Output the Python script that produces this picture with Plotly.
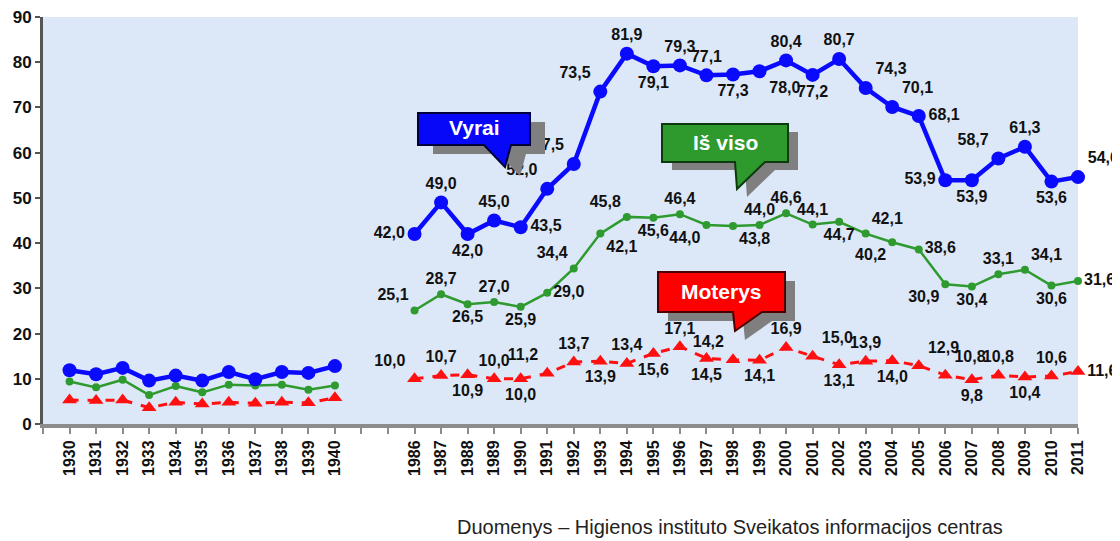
import plotly.graph_objects as go

# ---------------- data ----------------
years_early = ["1930", "1931", "1932", "1933", "1934", "1935", "1936", "1937", "1938", "1939", "1940"]
years_late = ["1986", "1987", "1988", "1989", "1990", "1991", "1992", "1993", "1994", "1995",
              "1996", "1997", "1998", "1999", "2000", "2001", "2002", "2003", "2004", "2005",
              "2006", "2007", "2008", "2009", "2010", "2011"]

vyrai_early = [11.9, 11.0, 12.4, 9.6, 10.7, 9.6, 11.5, 9.9, 11.5, 11.3, 12.8]
total_early = [9.4, 8.1, 9.8, 6.4, 8.4, 7.0, 8.7, 8.5, 8.7, 7.6, 8.5]
moterys_early = [5.3, 5.2, 5.3, 3.6, 4.8, 4.4, 4.8, 4.6, 4.8, 4.7, 5.8]

vyrai_late = [42.0, 49.0, 42.0, 45.0, 43.5, 52.0, 57.5, 73.5, 81.9, 79.1,
              79.3, 77.1, 77.3, 78.0, 80.4, 77.2, 80.7, 74.3, 70.1, 68.1,
              53.9, 53.9, 58.7, 61.3, 53.6, 54.6]
total_late = [25.1, 28.7, 26.5, 27.0, 25.9, 29.0, 34.4, 42.1, 45.8, 45.6,
              46.4, 44.0, 43.8, 44.0, 46.6, 44.1, 44.7, 42.1, 40.2, 38.6,
              30.9, 30.4, 33.1, 34.1, 30.6, 31.6]
moterys_late = [10.0, 10.7, 10.9, 10.0, 10.0, 11.2, 13.7, 13.9, 13.4, 15.6,
                17.1, 14.5, 14.2, 14.1, 16.9, 15.0, 13.1, 13.9, 14.0, 12.9,
                10.8, 9.8, 10.8, 10.4, 10.6, 11.6]

series_names = ["Vyrai", "Iš viso", "Moterys"]
source_text = "Duomenys – Higienos instituto Sveikatos informacijos centras"

# ---------------- label placement (style) ----------------
vyrai_pos = ["middle left", "top center", "bottom center", "top center", "middle right",
             "top left", "top left", "top left", "top center", "bottom center",
             "top center", "top center", "bottom center", "bottom right", "top center",
             "bottom center", "top center", "top right", "top right", "middle right",
             "middle left", "bottom center", "top left", "top center", "bottom center",
             "top right"]
total_pos = ["top left", "top center", "bottom center", "top center", "bottom center",
             "middle right", "top left", "bottom right", "top left", "bottom center",
             "top center", "bottom left", "bottom right", "top center", "top center",
             "top center", "bottom center", "top right", "bottom left", "middle right",
             "bottom left", "bottom center", "top center", "top right", "bottom center",
             "middle right"]
moterys_pos = ["top left", "top center", "bottom center", "top center", "bottom center",
               "top left", "top center", "bottom center", "top center", "bottom center",
               "top center", "bottom center", "top left", "bottom center", "top center",
               "top right", "bottom center", "top center", "bottom center", "top right",
               "top right", "bottom center", "top center", "bottom center", "top center",
               "middle right"]

GAP = 2
n_early = len(years_early)
x_early = list(range(n_early))
x_late = list(range(n_early + GAP, n_early + GAP + len(years_late)))
x_all = x_early + list(range(n_early, n_early + GAP)) + x_late
n_all = len(x_all)


def fmt(v):
    return f"{v:.1f}".replace(".", ",")


def join(early, late):
    return early + [None] * GAP + late


def labels(late):
    return [""] * (n_early + GAP) + [fmt(v) for v in late]


def positions(late_pos):
    return ["top center"] * (n_early + GAP) + late_pos


FONT = "Arial, 'Liberation Sans', sans-serif"
label_font = dict(family=FONT, size=16, color="#111111", weight="bold")

fig = go.Figure()

fig.add_trace(go.Scatter(
    x=x_all, y=join(total_early, total_late), name=series_names[1],
    mode="lines+markers+text", text=labels(total_late), textposition=positions(total_pos),
    textfont=label_font, cliponaxis=False,
    line=dict(color="#2f9a2f", width=2.5),
    marker=dict(symbol="circle", size=8, color="#2f9a2f"),
))
fig.add_trace(go.Scatter(
    x=x_all, y=join(moterys_early, moterys_late), name=series_names[2],
    mode="lines+markers+text", text=labels(moterys_late), textposition=positions(moterys_pos),
    textfont=label_font, cliponaxis=False,
    line=dict(color="#ff1010", width=3, dash="dash"),
    marker=dict(symbol="triangle-up", size=13, color="#ff1010"),
))
fig.add_trace(go.Scatter(
    x=x_all, y=join(vyrai_early, vyrai_late), name=series_names[0],
    mode="lines+markers+text", text=labels(vyrai_late), textposition=positions(vyrai_pos),
    textfont=label_font, cliponaxis=False,
    line=dict(color="#0a0aff", width=4.5),
    marker=dict(symbol="circle", size=14, color="#0a0aff"),
))

# ---------------- geometry helpers (page pixel -> paper) ----------------
OFF = 8                      # default page body margin around the figure
W, H = 1120 - OFF, 541 - OFF
ML, MT = 43 - OFF, 17 - OFF  # plot area: x 43..1078, y 17..424 on the page
PW, PH = 1035, 407
MR, MB = W - ML - PW, H - MT - PH


def px(xp):
    return (xp - OFF - ML) / PW


def py(yp):
    return (MT + PH - (yp - OFF)) / PH


def callout_path(x0, y0, x1, y1, bl, tip_x, tip_y, br, dx=0, dy=0):
    pts = [(x0, y0), (x1, y0), (x1, y1), (br, y1), (tip_x, tip_y), (bl, y1), (x0, y1)]
    s = ""
    for i, (a, b) in enumerate(pts):
        s += ("M" if i == 0 else "L") + f"{px(a + dx):.5f},{py(b + dy):.5f} "
    return s + "Z"


callouts = [
    # name, fill, border, box, tail(bl, tip_x, tip_y, br), shadow offset
    (series_names[0], "#0808f8", "#00003a", (418, 113, 530, 145), (484, 505, 167, 511), (15, 9)),
    (series_names[1], "#2e9a2e", "#0d3a0d", (662, 124, 788, 162), (735, 737, 189, 765), (10, 8)),
    (series_names[2], "#ff0000", "#4a0000", (658, 272, 785, 312), (733, 735, 331, 762), (10, 9)),
]

shapes = []
annotations = []
for name, fill, border, (x0, y0, x1, y1), (bl, tx, ty, br), (sx, sy) in callouts:
    shapes.append(dict(type="path", xref="paper", yref="paper",
                       path=callout_path(x0, y0, x1, y1, bl, tx, ty, br, sx, sy),
                       fillcolor="#7f7f7f", line=dict(width=0), layer="above"))
    shapes.append(dict(type="path", xref="paper", yref="paper",
                       path=callout_path(x0, y0, x1, y1, bl, tx, ty, br),
                       fillcolor=fill, line=dict(color=border, width=2), layer="above"))
    annotations.append(dict(x=px((x0 + x1) / 2), y=py((y0 + y1) / 2 - 1), xref="paper", yref="paper",
                            text=f"<b>{name}</b>", showarrow=False,
                            font=dict(family=FONT, size=21, color="white"),
                            xanchor="center", yanchor="middle"))

annotations.append(dict(x=px(730), y=py(527), xref="paper", yref="paper", text=source_text,
                        showarrow=False, font=dict(family=FONT, size=20, color="#222222"),
                        xanchor="center", yanchor="middle"))

tickvals = list(range(-1, n_all))
ticktext = [""] + years_early + [""] * GAP + years_late
ticktext = [f"<b>{t}</b>" if t else "" for t in ticktext]

fig.update_layout(
    width=W, height=H,
    margin=dict(l=ML, r=MR, t=MT, b=MB, autoexpand=False),
    paper_bgcolor="white",
    plot_bgcolor="#dce8f8",
    showlegend=False,
    shapes=shapes,
    annotations=annotations,
    font=dict(family=FONT),
)
fig.update_xaxes(
    range=[-1, n_all - 1], tickmode="array", tickvals=tickvals, ticktext=ticktext,
    tickangle=-90, tickfont=dict(family=FONT, size=16, color="#111111"),
    showgrid=False, zeroline=False,
    showline=True, linecolor="#8c8c8c", linewidth=4,
    ticks="outside", ticklen=6, tickwidth=2, tickcolor="#8c8c8c",
    ticklabeloverflow="allow",
)
fig.update_yaxes(
    range=[0, 90], tickmode="array", tickvals=list(range(0, 91, 10)),
    ticktext=[f"<b>{v}</b>" for v in range(0, 91, 10)],
    tickfont=dict(family=FONT, size=17, color="#111111"),
    showgrid=False, zeroline=False,
    showline=True, linecolor="#555555", linewidth=3,
    ticks="outside", ticklen=5, tickwidth=2, tickcolor="#555555",
    ticklabeloverflow="allow",
)

fig.write_html("out.html")
